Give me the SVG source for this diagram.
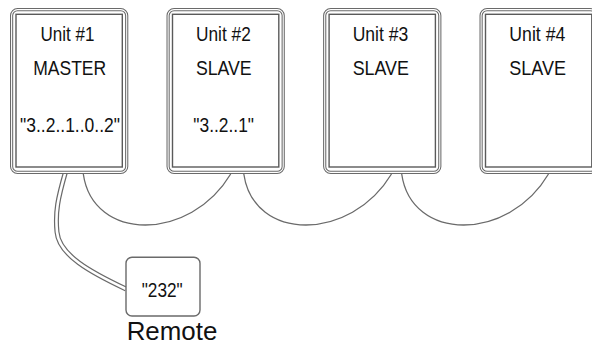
<svg xmlns="http://www.w3.org/2000/svg" width="592" height="343" viewBox="0 0 592 343">
<style>
  .frameO { fill: #fff; stroke: #6a6a6a; stroke-width: 3.2; }
  .frameI { fill: none; stroke: #fff; stroke-width: 1.1; }
  .inner { fill: #fff; stroke: #5a5a5a; stroke-width: 1.4; }
  .t { font-family: "Liberation Sans", Arial, sans-serif; font-size: 20.2px; fill: #111; text-anchor: middle; }
  .wire { fill: none; stroke: #6a6a6a; stroke-width: 1.3; }
  .cableO { fill: none; stroke: #6a6a6a; stroke-width: 5; }
  .cableI { fill: none; stroke: #fff; stroke-width: 2.6; }
  .remote { fill: #fff; stroke: #6a6a6a; stroke-width: 1.4; }
</style>
<rect width="592" height="343" fill="#fff"/>
<g id="connectors">
  <path class="wire" d="M83.3,174 C93,242 190,242 230.7,174"/>
  <path class="wire" d="M243.8,174 C253.5,242 350.5,242 391.5,174"/>
  <path class="wire" d="M401.7,174 C411.4,242 508.4,242 548.5,174"/>
  <path class="cableO" d="M65.5,172 C58,198 55,212 57,232 C59,255 90,272 126,289"/>
  <path class="cableI" d="M65.5,172 C58,198 55,212 57,232 C59,255 90,272 126,289"/>
</g>
<g id="unit1">
  <rect class="frameO" x="11.6" y="9.6" width="115.1" height="162.8" rx="6"/>
  <rect class="frameI" x="11.6" y="9.6" width="115.1" height="162.8" rx="6"/>
  <rect class="inner" x="16" y="14.3" width="106.3" height="152.7"/>
  <text class="t" x="67.5" y="40.7" textLength="54" lengthAdjust="spacingAndGlyphs">Unit #1</text>
  <text class="t" x="69.7" y="75" textLength="73" lengthAdjust="spacingAndGlyphs">MASTER</text>
  <text class="t" x="70" y="131.5" textLength="100" lengthAdjust="spacingAndGlyphs">"3..2..1..0..2"</text>
</g>
<g id="unit2">
  <rect class="frameO" x="168.1" y="9.6" width="115.1" height="162.8" rx="6"/>
  <rect class="frameI" x="168.1" y="9.6" width="115.1" height="162.8" rx="6"/>
  <rect class="inner" x="172.5" y="14.3" width="106.3" height="152.7"/>
  <text class="t" x="223.4" y="40.7" textLength="54.7" lengthAdjust="spacingAndGlyphs">Unit #2</text>
  <text class="t" x="223.8" y="75" textLength="55.7" lengthAdjust="spacingAndGlyphs">SLAVE</text>
  <text class="t" x="223.7" y="131.5" textLength="60.7" lengthAdjust="spacingAndGlyphs">"3..2..1"</text>
</g>
<g id="unit3">
  <rect class="frameO" x="324.7" y="9.6" width="115.1" height="162.8" rx="6"/>
  <rect class="frameI" x="324.7" y="9.6" width="115.1" height="162.8" rx="6"/>
  <rect class="inner" x="329.1" y="14.3" width="106.3" height="152.7"/>
  <text class="t" x="380.5" y="40.7" textLength="55.6" lengthAdjust="spacingAndGlyphs">Unit #3</text>
  <text class="t" x="380.8" y="75" textLength="56.3" lengthAdjust="spacingAndGlyphs">SLAVE</text>
</g>
<g id="unit4">
  <rect class="frameO" x="481.1" y="9.6" width="115.1" height="162.8" rx="6"/>
  <rect class="frameI" x="481.1" y="9.6" width="115.1" height="162.8" rx="6"/>
  <rect class="inner" x="485.5" y="14.3" width="106.3" height="152.7"/>
  <text class="t" x="537.3" y="40.7" textLength="56" lengthAdjust="spacingAndGlyphs">Unit #4</text>
  <text class="t" x="537.6" y="75" textLength="56.7" lengthAdjust="spacingAndGlyphs">SLAVE</text>
</g>
<g id="remote">
  <rect class="remote" x="126" y="257.3" width="74" height="58.7" rx="6"/>
  <text class="t" x="162.2" y="296.7" textLength="41" lengthAdjust="spacingAndGlyphs">"232"</text>
  <text class="t" x="172" y="339.5" style="font-size:25px" textLength="90.7" lengthAdjust="spacingAndGlyphs">Remote</text>
</g>
</svg>
